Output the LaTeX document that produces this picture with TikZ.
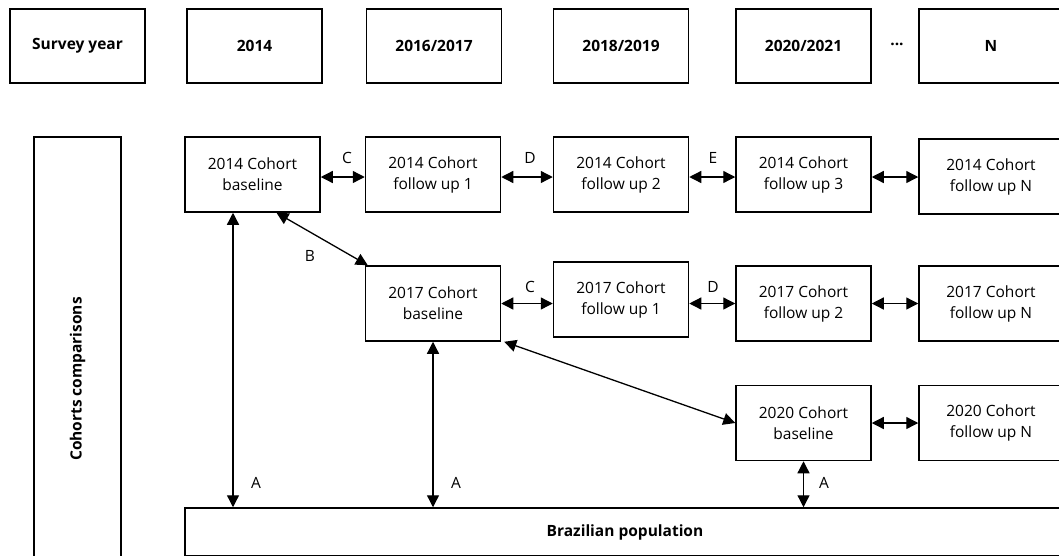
\documentclass[tikz,border=0pt]{standalone}
\usepackage{fontspec}
\setmainfont{Open Sans}
\usetikzlibrary{arrows.meta,calc}
\begin{document}
\begin{tikzpicture}[x=1pt,y=-1pt,
  every node/.style={font=\fontsize{15.5}{21}\selectfont},
  box/.style={draw,line width=1.5pt,minimum width=135pt,minimum height=75pt,align=center,inner sep=0pt},
  hbox/.style={draw,line width=1.5pt,minimum width=135pt,minimum height=74pt,align=center,inner sep=0pt,font=\fontsize{15.5}{21}\selectfont\bfseries},
  rbox/.style={box,minimum width=144pt},
  conn/.style={line width=1.3pt,{Triangle[length=12pt,width=12pt]}-{Triangle[length=12pt,width=12pt]}},
  lab/.style={inner sep=0pt}]
\useasboundingbox (0,0) rectangle (1059,555);
\clip (0,0) rectangle (1059,555);
% header row
\node[hbox] (sy) at (77.5,46) {Survey year};
\node[hbox] (y14) at (254.5,46) {2014};
\node[hbox] (y16) at (434,46) {2016/2017};
\node[hbox] (y18) at (621,46) {2018/2019};
\node[hbox] (y20) at (803.5,46) {2020/2021};
\node[lab,font=\fontsize{15.5}{21}\selectfont\bfseries] (dots) at (897,44) {...};
\node[hbox,minimum width=144pt] (yn) at (991,46) {N};
% side box
\node[draw,line width=1.5pt,minimum width=87pt,minimum height=484pt,inner sep=0pt] (cc) at (77.5,379) {};
\node[rotate=90,font=\fontsize{15.5}{21}\selectfont\bfseries] at (cc.center) {Cohorts comparisons};
% row 1
\node[box] (b14) at (252.5,174.5) {2014 Cohort\\baseline};
\node[box] (f141) at (433,174.5) {2014 Cohort\\follow up 1};
\node[box] (f142) at (621,174.5) {2014 Cohort\\follow up 2};
\node[box] (f143) at (803.5,174.5) {2014 Cohort\\follow up 3};
\node[rbox] (f14n) at (991,176.5) {2014 Cohort\\follow up N};
% row 2
\node[box] (b17) at (433,303.5) {2017 Cohort\\baseline};
\node[box] (f171) at (621,299.5) {2017 Cohort\\follow up 1};
\node[box] (f172) at (803.5,303.5) {2017 Cohort\\follow up 2};
\node[rbox] (f17n) at (991,303.5) {2017 Cohort\\follow up N};
% row 3
\node[box] (b20) at (803.5,423) {2020 Cohort\\baseline};
\node[rbox] (f20n) at (991,423) {2020 Cohort\\follow up N};
% population
\node[draw,line width=1.5pt,minimum width=880pt,minimum height=48pt,inner sep=0pt,font=\fontsize{15.5}{21}\selectfont\bfseries] (pop) at (625,532) {Brazilian population};
% row 1 connectors
\draw[conn] (b14.east |- 0,177) -- (f141.west |- 0,177);
\draw[conn] (f141.east |- 0,177) -- (f142.west |- 0,177);
\draw[conn] (f142.east |- 0,177) -- (f143.west |- 0,177);
\draw[conn] (f143.east |- 0,177) -- (f14n.west |- 0,177);
\node[lab] (lc1) at (347,158) {C};
\node[lab] (ld1) at (530,158) {D};
\node[lab] (le1) at (713,158) {E};
% row 2 connectors
\draw[conn] (b17.east) -- (b17.east -| f171.west);
\draw[conn] (b17.east -| f171.east) -- (f172.west);
\draw[conn] (f172.east) -- (f17n.west);
\node[lab] (lc2) at (530,287) {C};
\node[lab] (ld2) at (713,287) {D};
% row 3
\draw[conn] (b20.east) -- (f20n.west);
% diagonal
\coordinate (bs) at ($(b14.south)+(24,0)$);
\coordinate (bt) at ($(b17.north west)+(3,0)$);
\draw[conn] (bs) -- (bt);
\node[lab] (lb) at (310,256) {B};
\coordinate (cs) at ($(b17.south east)+(3,0)$);
\draw[conn] (cs) -- (b20.west);
% verticals
\coordinate (a1) at ($(b14.south)+(-19.5,0)$);
\draw[conn] (a1) -- (a1 |- pop.north);
\node[lab] (la1) at (256,483) {A};
\draw[conn] (b17.south) -- (b17.south |- pop.north);
\node[lab] (la2) at (456,483) {A};
\draw[conn] (b20.south) -- (b20.south |- pop.north);
\node[lab] (la3) at (824,483) {A};
\end{tikzpicture}
\end{document}
